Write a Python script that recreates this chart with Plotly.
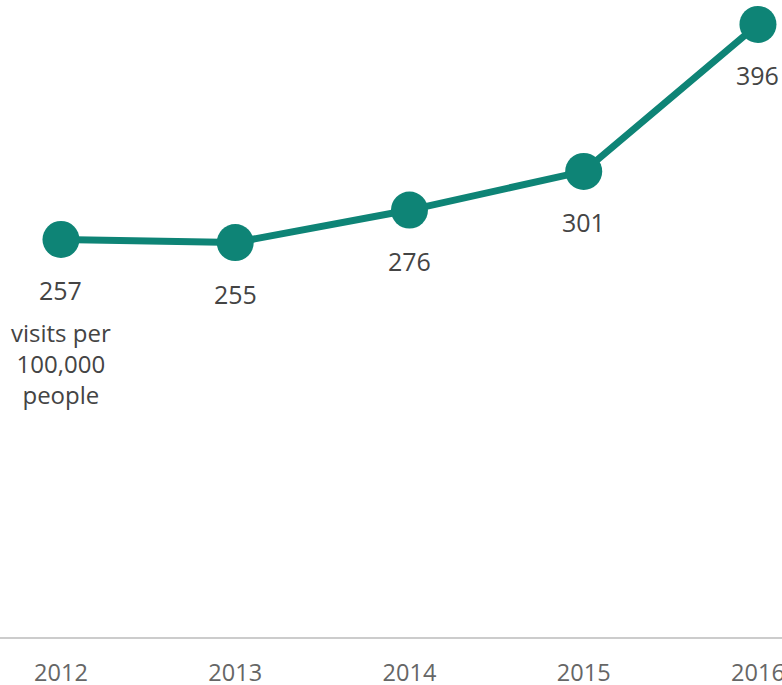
import plotly.graph_objects as go

years = [2012, 2013, 2014, 2015, 2016]
visits = [257, 255, 276, 301, 396]
tick_labels = ["2012", "2013", "2014", "2015", "2016"]
unit_note = "visits per<br>100,000<br>people"

TEAL = "#0e8476"
FONT = "Open Sans"

fig = go.Figure()
fig.add_trace(go.Scatter(
    x=years, y=visits, mode="lines+markers",
    line=dict(color=TEAL, width=7),
    marker=dict(color=TEAL, size=37),
    cliponaxis=False, hoverinfo="skip",
))

for x, v in zip(years, visits):
    fig.add_annotation(x=x, y=v, text=str(v), showarrow=False,
                       yshift=-51, font=dict(family=FONT, size=25, color="#444444"))

fig.add_annotation(x=years[0], y=visits[0], text=unit_note, showarrow=False,
                   yshift=-124, align="center",
                   font=dict(family=FONT, size=24, color="#444444"))

fig.update_layout(
    width=782, height=685,
    margin=dict(l=0, r=0, t=0, b=48, autoexpand=False),
    paper_bgcolor="white", plot_bgcolor="white",
    showlegend=False,
    xaxis=dict(range=[2011.65, 2016.138], tickvals=years, ticktext=tick_labels,
               showgrid=False, zeroline=False, showline=True, linecolor="#cccccc",
               linewidth=2, ticks="", ticklabelstandoff=14, automargin=False,
               ticklabeloverflow="allow",
               tickfont=dict(family=FONT, size=23.5, color="#666666")),
    yaxis=dict(range=[0, 411.8], visible=False, showgrid=False, zeroline=False,
               automargin=False),
)

fig.write_html(
    "out.html",
    config={"displayModeBar": False},
    post_script="document.body.style.margin='0';document.body.style.overflow='hidden';",
)
